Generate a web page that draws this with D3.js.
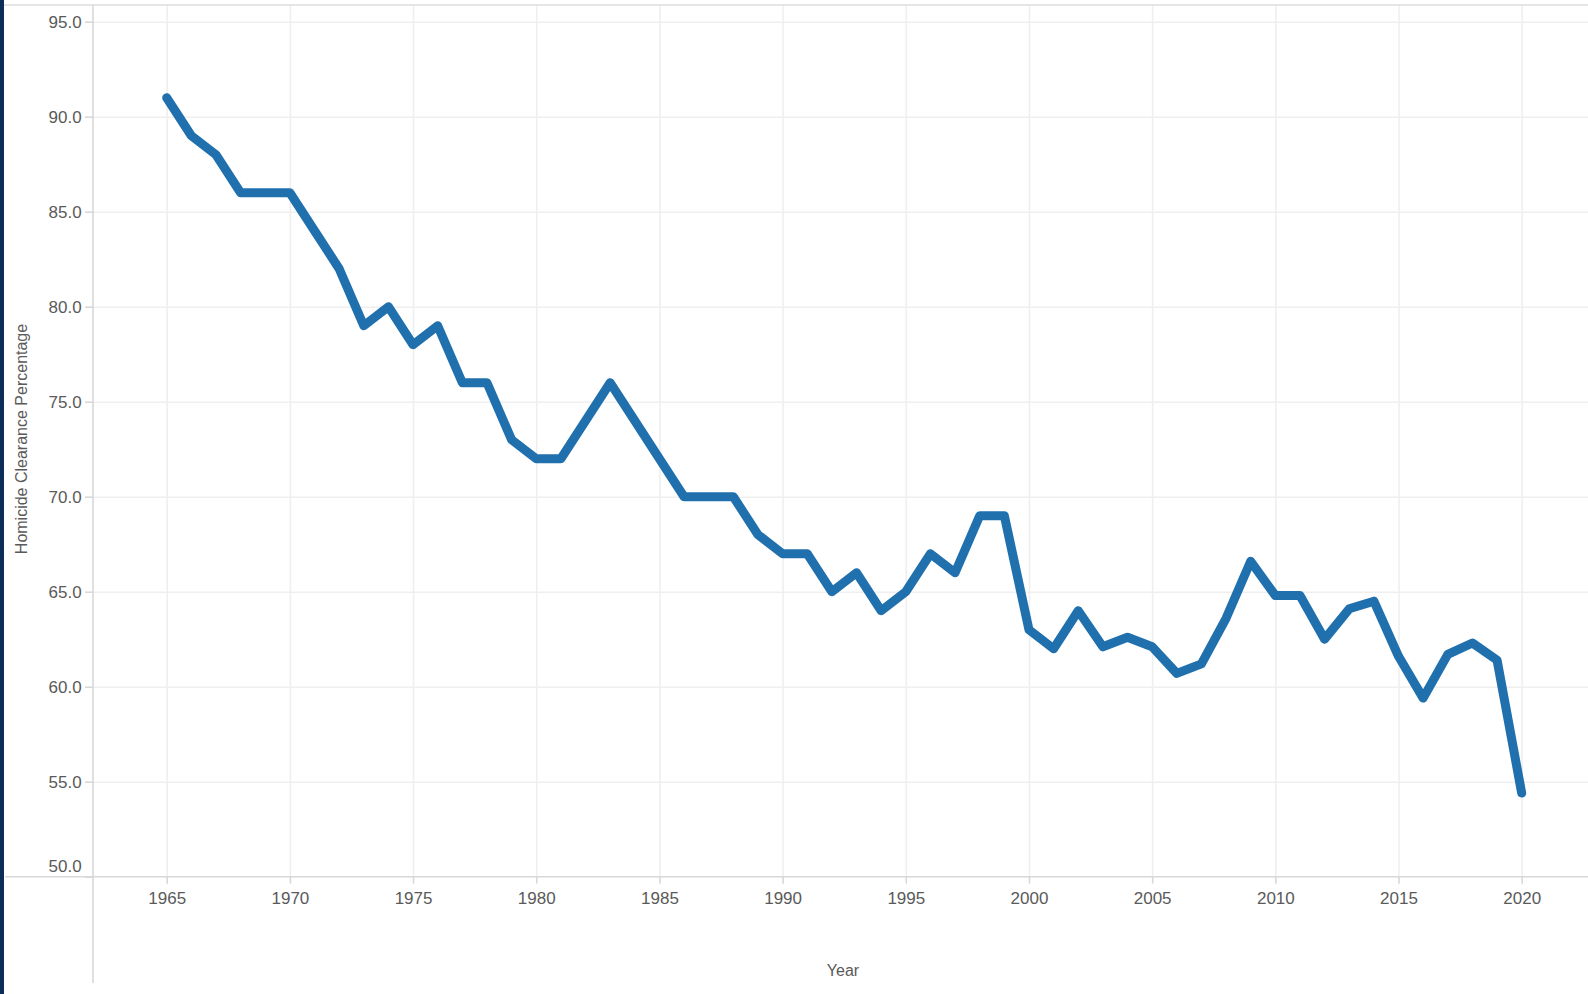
<!DOCTYPE html>
<html>
<head>
<meta charset="utf-8">
<script src="https://cdn.jsdelivr.net/npm/d3@7"></script>
<style>
  body { margin: 0; background: #fff; }
  .tick text { font-family: "Liberation Sans", Arial, sans-serif; font-size: 17px; fill: #5a5a5a; }
</style>
</head>
<body>
<div class="chart"></div>
<script>
const width = 1588;
const height = 994;

// data
const years = d3.range(1965, 2021);
const clearance = [
  91, 89, 88, 86, 86, 86, 84, 82, 79, 80,
  78, 79, 76, 76, 73, 72, 72, 74, 76, 74,
  72, 70, 70, 70, 68, 67, 67, 65, 66, 64,
  65, 67, 66, 69, 69, 63, 62, 64, 62.1, 62.6,
  62.1, 60.7, 61.2, 63.6, 66.6, 64.8, 64.8, 62.5, 64.1, 64.5,
  61.6, 59.4, 61.7, 62.3, 61.4, 54.4
];
const xTickValues = [1965, 1970, 1975, 1980, 1985, 1990, 1995, 2000, 2005, 2010, 2015, 2020];
const yTickValues = [50, 55, 60, 65, 70, 75, 80, 85, 90, 95];

const data = years.map((y, i) => ({ year: y, value: clearance[i] }));

const plotLeft = 93;
const plotTop = 5;
const xAxisY = 876.7;

let svg = d3.select(".chart")
  .append("svg")
  .attr("width", width)
  .attr("height", height);

const x = d3.scaleLinear()
  .domain([1965, 2020])
  .range([166.7, 1521.7]);

const y = d3.scaleLinear()
  .domain([50, 95])
  .range([xAxisY, 21.7]);

// dark stripe at left edge
svg.append("rect")
  .attr("x", 0).attr("y", 0)
  .attr("width", 4).attr("height", height)
  .attr("fill", "#0b2d57");

// gridlines
svg.append("g")
  .attr("transform", `translate(0,${xAxisY})`)
  .call(d3.axisBottom(x).tickValues(xTickValues).tickSize(-(xAxisY - plotTop)).tickFormat(""))
  .call(g => g.select(".domain").remove())
  .call(g => g.selectAll("line").attr("stroke", "#efefef").attr("stroke-width", 1.6));

svg.append("g")
  .attr("transform", `translate(${plotLeft},0)`)
  .call(d3.axisLeft(y).tickValues(yTickValues.filter(d => d > 50)).tickSize(-(width - plotLeft)).tickFormat(""))
  .call(g => g.select(".domain").remove())
  .call(g => g.selectAll("line").attr("stroke", "#efefef").attr("stroke-width", 1.6));

// frame lines
svg.append("line")
  .attr("x1", 4).attr("x2", width)
  .attr("y1", plotTop).attr("y2", plotTop)
  .attr("stroke", "#dcdcdc").attr("stroke-width", 1.6);
svg.append("line")
  .attr("x1", 5).attr("x2", width)
  .attr("y1", xAxisY).attr("y2", xAxisY)
  .attr("stroke", "#d8d8d8").attr("stroke-width", 1.6);
svg.append("line")
  .attr("x1", plotLeft).attr("x2", plotLeft)
  .attr("y1", plotTop).attr("y2", 983)
  .attr("stroke", "#d8d8d8").attr("stroke-width", 1.6);

// axes
svg.append("g")
  .attr("transform", `translate(0,${xAxisY})`)
  .call(d3.axisBottom(x).tickValues(xTickValues).tickFormat(d3.format("d")).tickSize(7).tickPadding(8))
  .call(g => g.select(".domain").remove())
  .call(g => g.selectAll("line").attr("stroke", "#d8d8d8").attr("stroke-width", 1.6));

svg.append("g")
  .attr("transform", `translate(${plotLeft},0)`)
  .call(d3.axisLeft(y).tickValues(yTickValues).tickFormat(d3.format(".1f")).tickSize(8).tickPadding(3.3))
  .call(g => g.select(".domain").remove())
  .call(g => g.selectAll("line").attr("stroke", "#d8d8d8").attr("stroke-width", 1.6))
  .call(g => g.selectAll("text").filter(d => d === 50).attr("dy", "-0.3em"));

// axis titles
svg.append("text")
  .attr("transform", "translate(27,439) rotate(-90)")
  .attr("text-anchor", "middle")
  .attr("font-family", "Liberation Sans, Arial, sans-serif")
  .attr("font-size", 16)
  .attr("fill", "#5a5a5a")
  .text("Homicide Clearance Percentage");

svg.append("text")
  .attr("x", 843)
  .attr("y", 976)
  .attr("text-anchor", "middle")
  .attr("font-family", "Liberation Sans, Arial, sans-serif")
  .attr("font-size", 16)
  .attr("fill", "#5a5a5a")
  .text("Year");

// the line
const line = d3.line()
  .x(d => x(d.year))
  .y(d => y(d.value));

svg.append("path")
  .datum(data)
  .attr("d", line)
  .attr("fill", "none")
  .attr("stroke", "#2170ae")
  .attr("stroke-width", 9)
  .attr("stroke-linecap", "round")
  .attr("stroke-linejoin", "round");
</script>
</body>
</html>
